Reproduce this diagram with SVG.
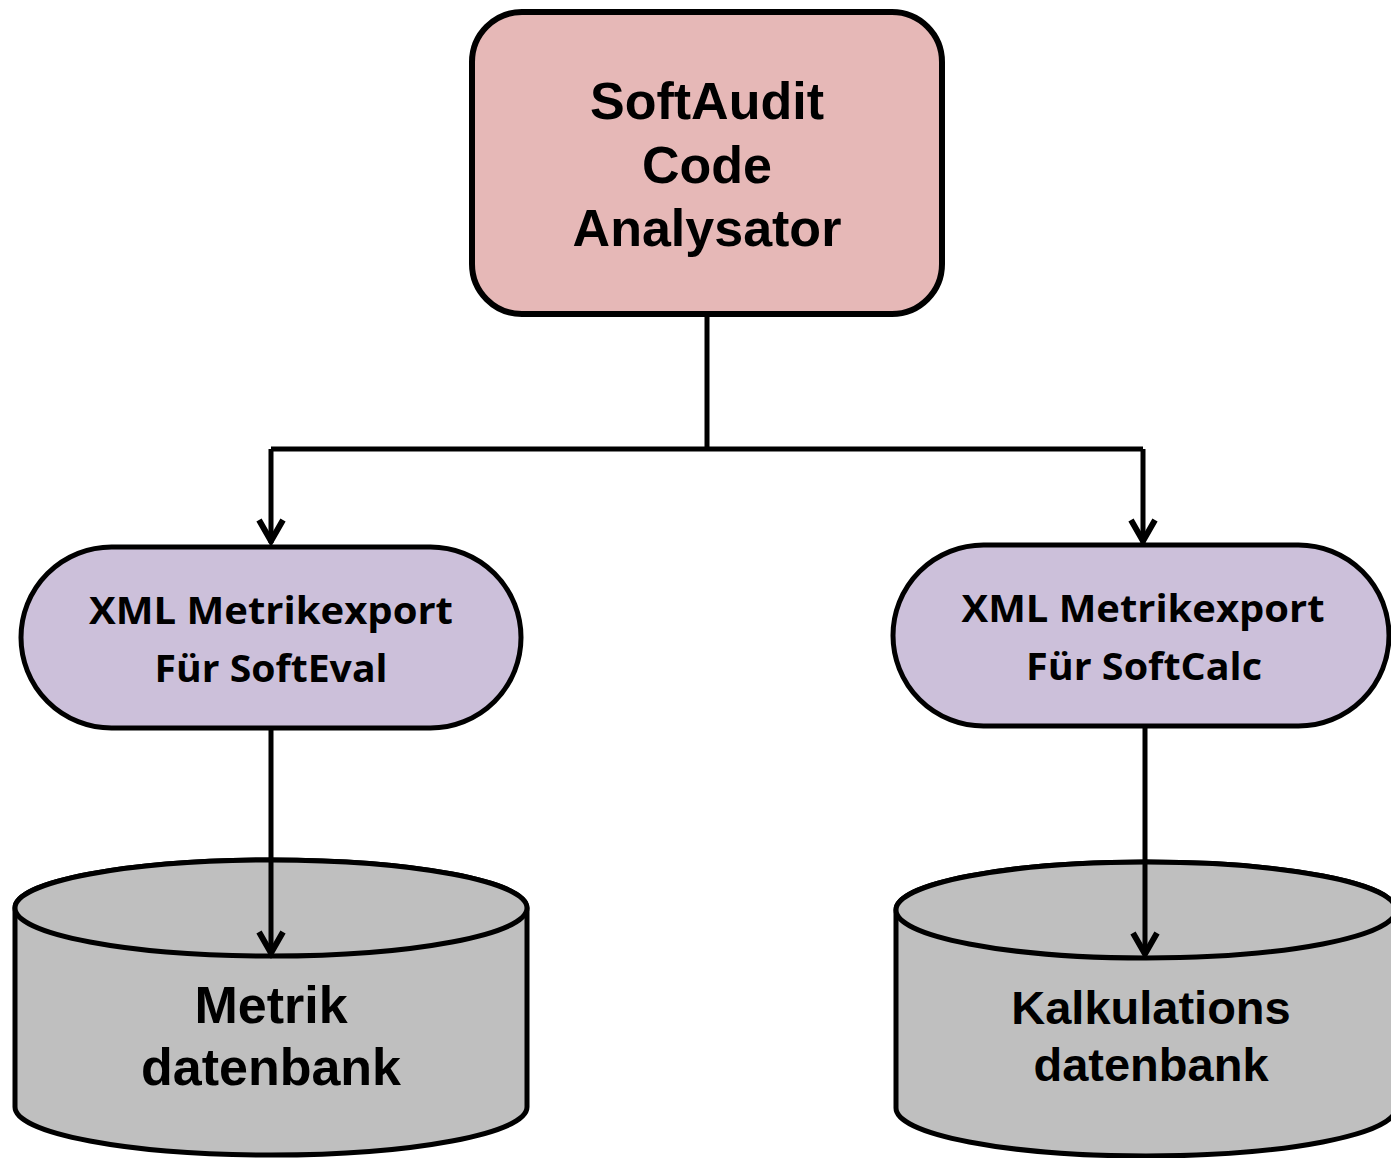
<svg xmlns="http://www.w3.org/2000/svg" width="1391" height="1158" viewBox="0 0 1391 1158">
<style>
.ln{fill:none;stroke:#000;stroke-width:5;stroke-linecap:butt}
.ah{fill:none;stroke:#000;stroke-width:6;stroke-linejoin:miter}
.arial{font-family:"Liberation Sans",Arial,sans-serif;font-weight:bold;fill:#000;text-anchor:middle}
.cal{font-family:"Open Sans","Noto Sans",sans-serif;font-weight:bold;fill:#000;text-anchor:middle;font-size:38px}
.cyl{fill:#BFBFBF;stroke:#000;stroke-width:5}
</style>
<rect width="1391" height="1158" fill="#fff"/>
<g id="analysator">
<rect x="472" y="12" width="470" height="302" rx="50" ry="50" fill="#E6B8B7" stroke="#000" stroke-width="6"/>
<text class="arial" font-size="52" x="707" y="119">SoftAudit</text>
<text class="arial" font-size="52" x="707" y="183">Code</text>
<text class="arial" font-size="52" x="707" y="246">Analysator</text>
</g>
<g id="export-softeval">
<rect x="21" y="547" width="500" height="181" rx="90.5" ry="90.5" fill="#CCC0DA" stroke="#000" stroke-width="5"/>
<text class="cal" x="271" y="624" textLength="364" lengthAdjust="spacingAndGlyphs">XML Metrikexport</text>
<text class="cal" x="271" y="682" textLength="233" lengthAdjust="spacingAndGlyphs">Für SoftEval</text>
</g>
<g id="export-softcalc">
<rect x="893" y="545" width="496" height="181" rx="90.5" ry="90.5" fill="#CCC0DA" stroke="#000" stroke-width="5"/>
<text class="cal" x="1143" y="622" textLength="363" lengthAdjust="spacingAndGlyphs">XML Metrikexport</text>
<text class="cal" x="1144" y="680" textLength="236" lengthAdjust="spacingAndGlyphs">Für SoftCalc</text>
</g>
<g id="metrik-db">
<path class="cyl" d="M15,908 V1107 A256,48 0 0 0 527,1107 V908 A256,48 0 0 0 15,908 Z"/>
<ellipse cx="271" cy="908" rx="256" ry="48" class="cyl"/>
<text class="arial" font-size="52" x="271" y="1023">Metrik</text>
<text class="arial" font-size="52" x="271" y="1085">datenbank</text>
</g>
<g id="kalkulations-db">
<path class="cyl" d="M896,910 V1108 A250,48 0 0 0 1396,1108 V910 A250,48 0 0 0 896,910 Z"/>
<ellipse cx="1146" cy="910" rx="250" ry="48" class="cyl"/>
<text class="arial" font-size="47" x="1151" y="1024">Kalkulations</text>
<text class="arial" font-size="47" x="1151" y="1081">datenbank</text>
</g>
<g id="connectors">
<path class="ln" d="M707,314 V449 M271,449 H1143 M271,449 V543 M1143,449 V543 M271,730 V953 M1145,728 V954"/>
<polyline class="ah" points="259,520 271,541 283,520"/>
<polyline class="ah" points="1131,520 1143,541 1155,520"/>
<polyline class="ah" points="259,932 271,953 283,932"/>
<polyline class="ah" points="1133,933 1145,954 1157,933"/>
</g>
</svg>
